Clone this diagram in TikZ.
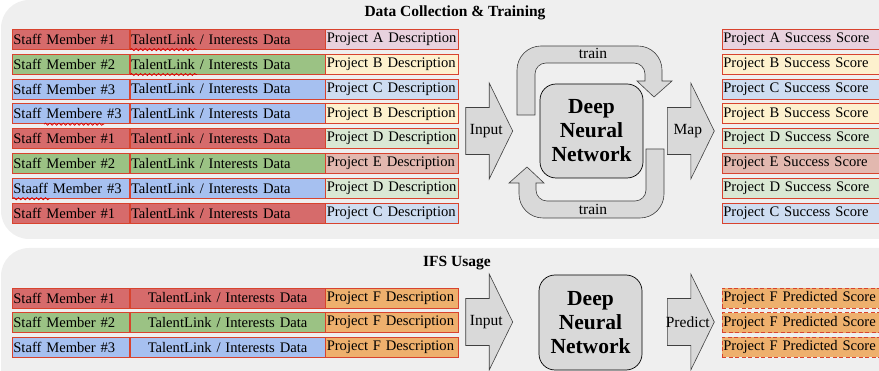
\documentclass[tikz,border=0pt]{standalone}
\usepackage{fontspec}
\setmainfont{Liberation Serif}
\usetikzlibrary{decorations.pathmorphing}

\definecolor{fond}{HTML}{EFEFEF}
\definecolor{bordRouge}{HTML}{D8432E}
\definecolor{rouge}{HTML}{D66B6B}
\definecolor{vert}{HTML}{9BC284}
\definecolor{bleu}{HTML}{A6C0F0}
\definecolor{projA}{HTML}{E8D2DE}
\definecolor{projB}{HTML}{FDF1CE}
\definecolor{projC}{HTML}{CEDDF1}
\definecolor{projD}{HTML}{DAE8D4}
\definecolor{projE}{HTML}{E2B8AF}
\definecolor{projF}{HTML}{EEB06D}
\definecolor{gris}{HTML}{D9D9D9}

\tikzset{
  cellule/.style={draw=bordRouge, line width=0.7pt, minimum height=20pt, inner xsep=1pt, inner ysep=0pt,
    anchor=west, align=left, font=\fontsize{14.6}{16}\selectfont},
  fleche/.style={fill=gris, draw=black!75, line width=0.6pt},
  etiq/.style={font=\fontsize{15.5}{17}\selectfont, inner sep=0pt},
  titre/.style={font=\fontsize{15.5}{17}\selectfont\bfseries, inner sep=0pt},
  reseau/.style={fill=gris, draw=black, line width=0.7pt, rounded corners=16pt, minimum width=103pt,
    minimum height=94pt, align=center, font=\fontsize{21.5}{24}\selectfont\bfseries},
  vague/.style={draw=red!85!black, line width=0.7pt, decorate,
    decoration={snake, amplitude=1.1pt, segment length=4.5pt}}
}

\newcommand{\flecheBloc}[4]{%
  \draw[fleche] (#1,#2-23.5) -- ++(23.5,0) -- ++(0,-24.5) -- (#1+47,#2) -- (#1+23.5,#2+48)
    -- ++(0,-24.5) -- (#1,#2+23.5) -- cycle;
  \node[etiq] (#3) at (#1+20.5,#2) {#4};}
\newcommand{\flecheTrain}{%
  \draw[fleche] (517,115) -- (517,70) arc[start angle=180, end angle=270, radius=24] -- (638,46)
    arc[start angle=270, end angle=360, radius=24] -- (662,81) -- (672,81) -- (654,97) -- (637,81)
    -- (645,81) -- (645,74) arc[start angle=0, end angle=-90, radius=11] -- (546,63)
    arc[start angle=270, end angle=180, radius=11] -- (535,115) -- cycle;}

\begin{document}
\begin{tikzpicture}[x=1pt, y=-1pt]
  \useasboundingbox (0,0) rectangle (879,371);
  \clip (0,0) rectangle (879,371);
  \fill[fond, rounded corners=28pt] (1,0) rectangle (920,239);
  \fill[fond, rounded corners=28pt] (1,248) rectangle (920,400);

  \node[titre] (titreH) at (455,13) {Data Collection \& Training};
  \node[titre] (titreB) at (457,263) {IFS Usage};

  \foreach \i/\nom/\coul/\lettre in {1/Staff Member \#1/rouge/A, 2/Staff Member \#2/vert/B,
      3/Staff Member \#3/bleu/C, 4/Staff Membere \#3/bleu/B, 5/Staff Member \#1/rouge/D,
      6/Staff Member \#2/vert/E, 7/Staaff Member \#3/bleu/D, 8/Staff Member \#1/rouge/C}{
    \node[cellule, fill=\coul, text width=115pt] (s\i) at (12,{39.3+24.85*(\i-1)}) {\mbox{\nom}};
    \node[cellule, fill=\coul, text width=193pt] (t\i) at (s\i.east) {\mbox{TalentLink / Interests Data}};
    \node[cellule, fill=proj\lettre, text width=131pt] (d\i) at (t\i.east) {\mbox{Project \lettre{} Description}};
    \node[cellule, fill=proj\lettre, text width=178pt] (r\i) at (722,{39.3+24.85*(\i-1)}) {\mbox{Project \lettre{} Success Score}};
  }
  \draw[vague] ([xshift=0.5pt]t1.south west) -- ++(67,0);
  \draw[vague] ([xshift=0.5pt]t2.south west) -- ++(67,0);
  \draw[vague] ([xshift=32pt]s4.south west) -- ++(60,0);
  \draw[vague] ([xshift=0.5pt]s7.south west) -- ++(37,0);

  \foreach \i/\nom/\coul in {1/Staff Member \#1/rouge, 2/Staff Member \#2/vert, 3/Staff Member \#3/bleu}{
    \node[cellule, fill=\coul, text width=115pt] (su\i) at (12,{298+24.6*(\i-1)}) {\mbox{\nom}};
    \node[cellule, fill=\coul, text width=193pt, align=center] (tu\i) at (su\i.east) {\mbox{TalentLink / Interests Data}};
    \node[cellule, fill=projF, text width=131pt] (du\i) at (tu\i.east) {\mbox{Project F Description}};
    \node[cellule, fill=projF, text width=178pt, dash pattern=on 4pt off 2.5pt] (pu\i) at (722,{298+24.6*(\i-1)}) {\mbox{Project F Predicted Score}};
  }

  \flecheBloc{465.7}{131}{entree}{Input}
  \flecheBloc{667.3}{131}{carte}{Map}
  \flecheBloc{465.7}{322}{entreeU}{Input}
  \flecheBloc{667.3}{322}{predire}{Predict}

  \node[reseau] (dnn) at (591.5,131) {Deep\\Neural\\Network};
  \node[reseau, minimum height=95pt] (dnnU) at (590.5,322.5) {Deep\\Neural\\Network};

  \flecheTrain
  \begin{scope}[rotate around={180:(590.5,132)}]\flecheTrain\end{scope}
  \node[etiq] (trainH) at (593,53) {train};
  \node[etiq] (trainB) at (593,209) {train};
\end{tikzpicture}
\end{document}
